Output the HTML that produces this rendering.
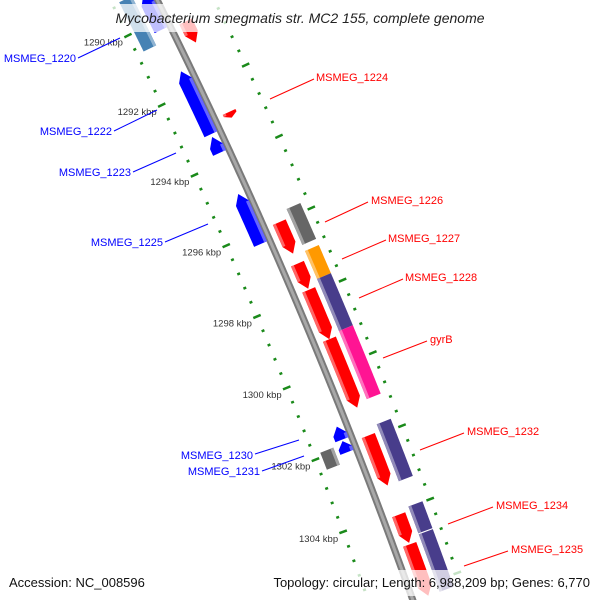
<!DOCTYPE html>
<html><head><meta charset="utf-8"><style>
html,body{margin:0;padding:0;background:#fff;width:600px;height:600px;overflow:hidden}
svg{display:block;overflow:hidden}
text{font-family:"Liberation Sans",sans-serif}
</style></head><body>
<svg id="map" width="600" height="600" viewBox="0 0 600 600" xmlns="http://www.w3.org/2000/svg">
<defs><clipPath id="frame"><rect x="0" y="0" width="600" height="600"/></clipPath></defs>
<g clip-path="url(#frame)">
<g id="ticks"></g>
<g id="feat"></g>
<g id="labels"></g>
</g>
<rect x="88" y="4" width="424" height="28" fill="#fff" fill-opacity="0.75"/>
<text x="300" y="23" text-anchor="middle" font-size="14" font-style="italic" fill="#222">Mycobacterium smegmatis str. MC2 155, complete genome</text>
<rect x="4" y="570" width="150" height="26" fill="#fff" fill-opacity="0.75"/>
<rect x="255" y="570" width="340" height="26" fill="#fff" fill-opacity="0.75"/>
<text x="9" y="587" font-size="13" fill="#111">Accession: NC_008596</text>
<text x="590" y="587" text-anchor="end" font-size="13" fill="#111">Topology: circular; Length: 6,988,209 bp; Genes: 6,770</text>
</svg>
<script>
// data (kbp)
const fwdStart = [1290.33, 1292.9, 1296.0, 1297.16, 1297.89, 1299.26, 1301.92, 1304.09, 1304.9];
const fwdEnd   = [1290.93, 1293.06, 1296.88, 1297.86, 1299.26, 1301.15, 1303.29, 1304.86, 1306.3];
const revStart = [1289.23, 1291.43, 1293.3, 1294.91, 1301.41, 1301.81];
const revEnd   = [1290.25, 1293.22, 1293.75, 1296.32, 1301.77, 1302.12];
const cogFwdStart = [1295.77, 1296.94, 1297.72, 1299.16, 1301.73, 1303.98, 1304.74];
const cogFwdEnd   = [1296.77, 1297.72, 1299.16, 1301.04, 1303.29, 1304.71, 1306.3];
const cogFwdColor = ["#666666","#ff9900","#483d8b","#ff1493","#483d8b","#483d8b","#483d8b"];
const cogRevStart = [1289.13, 1301.88];
const cogRevEnd   = [1290.55, 1302.35];
const cogRevColor = ["#4682b4","#666666"];
const majorTicks = [1290,1292,1294,1296,1298,1300,1302,1304,1306];
const tickLabels = ["1290 kbp","1292 kbp","1294 kbp","1296 kbp","1298 kbp","1300 kbp","1302 kbp","1304 kbp","1306 kbp"];
const leftLabels = [["MSMEG_1220",76,62,78,58,120,38],["MSMEG_1222",112,135,114,131,157,110],["MSMEG_1223",131,176,133,172,176,153],["MSMEG_1225",163,246,165,242,208,224],["MSMEG_1230",253,459,255,454,299,440],["MSMEG_1231",260,475,262,471,304,456]];
const rightLabels = [["MSMEG_1224",316,81,270,99,314,79],["MSMEG_1226",371,204,325,222,368,202],["MSMEG_1227",388,242,342,259,386,240],["MSMEG_1228",405,281,359,298,403,279],["gyrB",430,343,383,358,427,341],["MSMEG_1232",467,435,420,450,464,433],["MSMEG_1234",496,509,448,524,493,507],["MSMEG_1235",511,553,464,566,508,551]];

const CX=-4731, CY=2437, RIN=5420, RBB=5462, ROUT=5513;
function ang(bp){return (-26.30+(bp-1290)*0.4086)*Math.PI/180;}
function pt(bp,r){const a=ang(bp);return [CX+r*Math.cos(a),CY+r*Math.sin(a)];}
const NS="http://www.w3.org/2000/svg";
function mk(tag,attrs,parent){const e=document.createElementNS(NS,tag);for(const k in attrs)e.setAttribute(k,attrs[k]);parent.appendChild(e);return e;}
function arcPts(s,e,r){const out=[];const n=Math.max(2,Math.ceil((e-s)/0.05));for(let i=0;i<=n;i++)out.push(pt(s+(e-s)*i/n,r));return out;}
function poly(points){return "M"+points.map(p=>p[0].toFixed(2)+","+p[1].toFixed(2)).join("L")+"Z";}

const tg=document.getElementById('ticks'), fg=document.getElementById('feat'), lg=document.getElementById('labels');
const bb=arcPts(1288,1307,RBB);
const bbd="M"+bb.map(p=>p[0].toFixed(2)+","+p[1].toFixed(2)).join("L");
let e=mk('path',{d:bbd,stroke:"#7a7a7a","stroke-width":7,fill:"none"},fg);


e=mk('path',{d:bbd,stroke:"#a8a8a8","stroke-width":3,fill:"none"},fg);



[RIN,ROUT].forEach((R,ri)=>{
  for(let k=0;k<=45;k++){
    const bp=1288+k*0.4;
    const isMaj=Math.abs(bp/2-Math.round(bp/2))<1e-6;
    const half=isMaj?4:1.5;
    const a=pt(bp,R-half),b=pt(bp,R+half);
    const l=mk('line',{x1:a[0],y1:a[1],x2:b[0],y2:b[1],stroke:"#1a8a1a","stroke-width":2.5},tg);
    
    
  }
});
majorTicks.forEach((bp,i)=>{
  const p=pt(bp,RIN);
  const t=mk('text',{x:p[0]-5,y:p[1]+10,"text-anchor":"end","font-size":"9.5",fill:"#333"},tg);
  t.textContent=tickLabels[i];
  
  
});

function lighten(c){const n=parseInt(c.slice(1),16);let r=n>>16,g=(n>>8)&255,b=n&255;r=Math.round(r+(255-r)*0.4);g=Math.round(g+(255-g)*0.4);b=Math.round(b+(255-b)*0.4);return "rgb("+r+","+g+","+b+")";}
function arrow(s,e,r0,r1,color,dir,name){
  const h=Math.min(0.26,(e-s)*0.6), mid=(r0+r1)/2;
  let pts;
  if(dir>0){pts=arcPts(s,e-h,r1).concat([pt(e,mid)]).concat(arcPts(s,e-h,r0).reverse());}
  else{pts=[pt(s,mid)].concat(arcPts(s+h,e,r1)).concat(arcPts(s+h,e,r0).reverse());}
  const p=mk('path',{d:poly(pts),fill:color},fg);
  
  
  const a0=dir>0?s:s+h, a1=dir>0?e-h:e;
  const ra=dir>0?r0:r1-3, rb=dir>0?r0+3:r1;
  const st=mk('path',{d:poly(arcPts(a0,a1,rb).concat(arcPts(a0,a1,ra).reverse())),fill:lighten(color)},fg);
  
  
}
function box(s,e,r0,r1,color,side,name){
  const p=mk('path',{d:poly(arcPts(s,e,r1).concat(arcPts(s,e,r0).reverse())),fill:color},fg);
  
  
  const ra=side>0?r0:r1-3, rb=side>0?r0+3:r1;
  const st=mk('path',{d:poly(arcPts(s,e,rb).concat(arcPts(s,e,ra).reverse())),fill:lighten(color)},fg);
  
  
}
fwdStart.forEach((s,i)=>arrow(s,fwdEnd[i],5471,5485,"#ff0000",1,'forward-gene'));
revStart.forEach((s,i)=>arrow(s,revEnd[i],5445,5459,"#0000ff",-1,'reverse-gene'));
cogFwdStart.forEach((s,i)=>box(s,cogFwdEnd[i],5490,5505,cogFwdColor[i],1,'forward-cog-feature'));
cogRevStart.forEach((s,i)=>box(s,cogRevEnd[i],5427,5441,cogRevColor[i],-1,'reverse-cog-feature'));

function label(L,color,anchor){
  const ln=mk('line',{x1:L[3],y1:L[4],x2:L[5],y2:L[6],stroke:color,"stroke-width":1},lg);
  
  
  const t=mk('text',{x:L[1],y:L[2],"text-anchor":anchor,"font-size":"11",fill:color},lg);
  t.textContent=L[0];
  
  
}
leftLabels.forEach(L=>label(L,"#0000ff","end"));
rightLabels.forEach(L=>label(L,"#ff0000","start"));
</script>
</body></html>
